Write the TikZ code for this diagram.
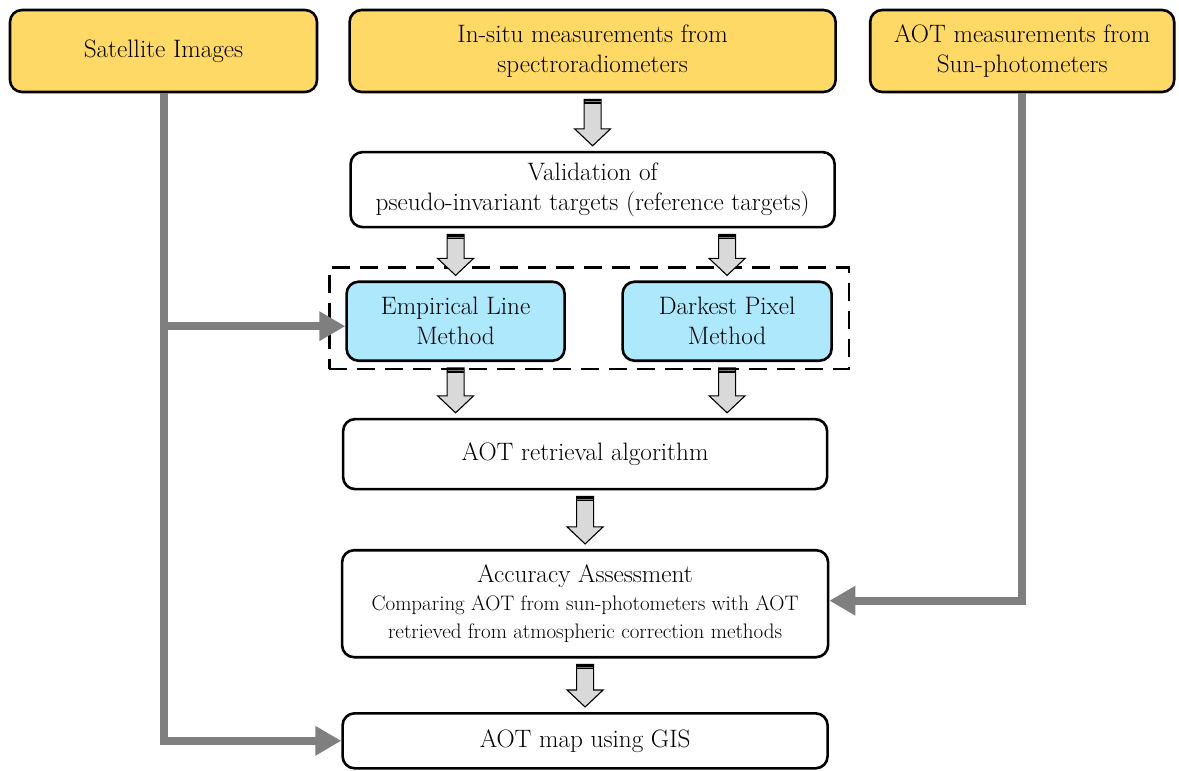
\documentclass[tikz,border=0pt]{standalone}
\usepackage{fontspec}
\usepackage{xcolor}
\usepackage{tikz}
\usetikzlibrary{arrows.meta,positioning,calc,fit}
\definecolor{inputyellow}{HTML}{FFD966}
\definecolor{methodcyan}{HTML}{ADE8FC}
\definecolor{feedgray}{HTML}{7F7F7F}
\definecolor{arrowfill}{HTML}{D9D9D9}

% hollow block arrow: x from #1, tip just above #2
\newcommand{\blockarrow}[2]{%
  \path let \p1=#1, \p2=#2 in [draw=black, fill=arrowfill, line width=1.1pt, line join=miter]
    (\x1-8.5pt,\y1-6pt) -- (\x1+8.5pt,\y1-6pt) -- (\x1+8.5pt,\y2+22pt)
    -- (\x1+18pt,\y2+22pt) -- (\x1,\y2+5pt) -- (\x1-18pt,\y2+22pt)
    -- (\x1-8.5pt,\y2+22pt) -- cycle;
  \path let \p1=#1 in [fill=black]
    (\x1-8.5pt,\y1-6pt) rectangle (\x1+8.5pt,\y1-10.5pt);
  \path let \p1=#1 in [draw=feedgray, line width=0.8pt]
    (\x1-8pt,\y1-8.5pt) -- (\x1+8pt,\y1-8.5pt);}

\begin{document}
\begin{tikzpicture}[x=1pt, y=-1pt,
  font=\fontsize{25.2}{30}\selectfont,
  box/.style={draw, line width=2.6pt, rounded corners=12pt, align=center, inner sep=2pt},
  topbox/.style={box, fill=inputyellow, minimum height=82pt},
  method/.style={box, fill=methodcyan, minimum height=79pt},
  group/.style={draw, line width=2.6pt, dash pattern=on 18pt off 10pt},
  feed/.style={draw=feedgray, line width=8pt, -{Triangle[length=26pt,width=28pt]}}]
\useasboundingbox (0,0) rectangle (1179,771);
% data sources
\node[topbox, minimum width=307pt] (sat) at (163.5,51) {Satellite Images};
\node[topbox, minimum width=486pt, right=30pt of sat] (insitu)
  {In-situ measurements from\\spectroradiometers};
\node[topbox, minimum width=304pt, right=32pt of insitu] (aotm)
  {AOT measurements from\\Sun-photometers};
% processing chain
\node[box, minimum width=484pt, minimum height=75pt, below=57.5pt of insitu] (valid)
  {Validation of\\pseudo-invariant targets (reference targets)};
\node[method, minimum width=218pt, below=52pt of valid.south west, anchor=north west, xshift=-4pt] (elm)
  {Empirical Line\\Method};
\node[method, minimum width=209pt, below=52pt of valid.south east, anchor=north east, xshift=-3pt] (dpm)
  {Darkest Pixel\\Method};
\node[group, fit=(elm)(dpm), inner xsep=16pt, inner ysep=10pt, yshift=3pt] (grp) {};
\node[box, minimum width=484pt, minimum height=70pt, below=47.5pt of grp, xshift=-4pt] (ret)
  {AOT retrieval algorithm};
\node[box, minimum width=486pt, minimum height=107pt, below=58.5pt of ret] (acc)
  {Accuracy Assessment\\[-2pt]{\fontsize{21}{28}\selectfont Comparing AOT from sun-photometers with AOT}\\[-2pt]
   {\fontsize{21}{28}\selectfont retrieved from atmospheric correction methods}};
\node[box, minimum width=485pt, minimum height=55pt, below=53.5pt of acc] (map)
  {AOT map using GIS};
% block arrows
\blockarrow{(insitu.south)}{(valid.north)}
\blockarrow{(valid.south -| elm)}{(elm.north)}
\blockarrow{(valid.south -| dpm)}{(dpm.north)}
\blockarrow{(elm.south)}{(ret.north)}
\blockarrow{(dpm.south)}{(ret.north)}
\blockarrow{(ret.south)}{(acc.north)}
\blockarrow{(acc.south)}{(map.north)}
% gray feeds
\draw[feed] (sat.south) |- (map.west);
\draw[feed] ([yshift=-5pt]sat.south |- elm.west) -- ([yshift=-5pt]elm.west);
\draw[feed] (aotm.south) |- ([yshift=3pt]acc.east);
\end{tikzpicture}
\end{document}
